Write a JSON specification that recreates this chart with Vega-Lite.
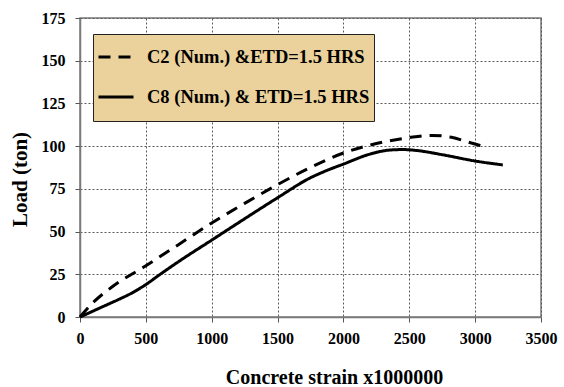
{
  "$schema": "https://vega.github.io/schema/vega-lite/v6.json",
  "width": 461,
  "height": 299,
  "autosize": {"type": "none"},
  "padding": {"left": 80, "top": 18, "right": 23, "bottom": 70},
  "background": "white",
  "config": {
    "font": "Liberation Serif",
    "view": {"stroke": "#7a7a7a", "strokeWidth": 1.5},
    "axis": {
      "labelFont": "Liberation Serif",
      "labelFontWeight": "bold",
      "labelFontSize": 16,
      "labelColor": "black",
      "titleFont": "Liberation Serif",
      "titleFontWeight": "bold",
      "titleColor": "black",
      "domainColor": "#7a7a7a",
      "domainWidth": 1.5,
      "tickColor": "#555",
      "tickSize": 5
    }
  },
  "data": {
    "values": [
      {"series": "C2 (Num.) &ETD=1.5 HRS", "strain": 0, "load": 0},
      {"series": "C2 (Num.) &ETD=1.5 HRS", "strain": 100, "load": 8.5},
      {"series": "C2 (Num.) &ETD=1.5 HRS", "strain": 250, "load": 18},
      {"series": "C2 (Num.) &ETD=1.5 HRS", "strain": 500, "load": 30},
      {"series": "C2 (Num.) &ETD=1.5 HRS", "strain": 750, "load": 42.5},
      {"series": "C2 (Num.) &ETD=1.5 HRS", "strain": 1000, "load": 55},
      {"series": "C2 (Num.) &ETD=1.5 HRS", "strain": 1250, "load": 66.5},
      {"series": "C2 (Num.) &ETD=1.5 HRS", "strain": 1500, "load": 77.5},
      {"series": "C2 (Num.) &ETD=1.5 HRS", "strain": 1750, "load": 87.5},
      {"series": "C2 (Num.) &ETD=1.5 HRS", "strain": 2000, "load": 96},
      {"series": "C2 (Num.) &ETD=1.5 HRS", "strain": 2250, "load": 101.5},
      {"series": "C2 (Num.) &ETD=1.5 HRS", "strain": 2500, "load": 105},
      {"series": "C2 (Num.) &ETD=1.5 HRS", "strain": 2670, "load": 106.3},
      {"series": "C2 (Num.) &ETD=1.5 HRS", "strain": 2820, "load": 105.2},
      {"series": "C2 (Num.) &ETD=1.5 HRS", "strain": 2950, "load": 102.3},
      {"series": "C2 (Num.) &ETD=1.5 HRS", "strain": 3040, "load": 100.3},
      {"series": "C8 (Num.) & ETD=1.5 HRS", "strain": 0, "load": 0},
      {"series": "C8 (Num.) & ETD=1.5 HRS", "strain": 100, "load": 3.5},
      {"series": "C8 (Num.) & ETD=1.5 HRS", "strain": 200, "load": 7},
      {"series": "C8 (Num.) & ETD=1.5 HRS", "strain": 300, "load": 10.5},
      {"series": "C8 (Num.) & ETD=1.5 HRS", "strain": 400, "load": 14.3},
      {"series": "C8 (Num.) & ETD=1.5 HRS", "strain": 500, "load": 19},
      {"series": "C8 (Num.) & ETD=1.5 HRS", "strain": 600, "load": 24.5},
      {"series": "C8 (Num.) & ETD=1.5 HRS", "strain": 750, "load": 32.5},
      {"series": "C8 (Num.) & ETD=1.5 HRS", "strain": 1000, "load": 45},
      {"series": "C8 (Num.) & ETD=1.5 HRS", "strain": 1250, "load": 57.5},
      {"series": "C8 (Num.) & ETD=1.5 HRS", "strain": 1500, "load": 69.8},
      {"series": "C8 (Num.) & ETD=1.5 HRS", "strain": 1750, "load": 81.5},
      {"series": "C8 (Num.) & ETD=1.5 HRS", "strain": 1850, "load": 85},
      {"series": "C8 (Num.) & ETD=1.5 HRS", "strain": 2000, "load": 89.5},
      {"series": "C8 (Num.) & ETD=1.5 HRS", "strain": 2200, "load": 95.3},
      {"series": "C8 (Num.) & ETD=1.5 HRS", "strain": 2350, "load": 97.7},
      {"series": "C8 (Num.) & ETD=1.5 HRS", "strain": 2450, "load": 98},
      {"series": "C8 (Num.) & ETD=1.5 HRS", "strain": 2550, "load": 97.5},
      {"series": "C8 (Num.) & ETD=1.5 HRS", "strain": 2750, "load": 95},
      {"series": "C8 (Num.) & ETD=1.5 HRS", "strain": 3000, "load": 91.3},
      {"series": "C8 (Num.) & ETD=1.5 HRS", "strain": 3210, "load": 89}
    ]
  },
  "mark": {"type": "line", "color": "black", "strokeWidth": 3, "interpolate": "monotone"},
  "encoding": {
    "x": {
      "field": "strain",
      "type": "quantitative",
      "scale": {"domain": [0, 3500], "nice": false},
      "axis": {
        "grid": true,
        "gridColor": "#5a5a5a",
        "gridDash": [2, 2],
        "gridWidth": 1,
        "gridOpacity": 1,
        "values": [0, 500, 1000, 1500, 2000, 2500, 3000, 3500],
        "format": "d",
        "title": "Concrete strain x1000000",
        "titleFontSize": 20,
        "titleX": 254,
        "titleY": 50,
        "titleBaseline": "top",
        "labelPadding": 8,
        "labelFlush": false
      }
    },
    "y": {
      "field": "load",
      "type": "quantitative",
      "scale": {"domain": [0, 175], "nice": false},
      "axis": {
        "grid": true,
        "gridColor": "#5a5a5a",
        "gridDash": [2, 2],
        "gridWidth": 1,
        "gridOpacity": 1,
        "values": [0, 25, 50, 75, 100, 125, 150, 175],
        "format": "d",
        "title": "Load (ton)",
        "titleFontSize": 21,
        "titleX": -60,
        "titleY": 161,
        "titleBaseline": "middle",
        "labelPadding": 10
      }
    },
    "strokeDash": {
      "field": "series",
      "type": "nominal",
      "scale": {
        "domain": ["C2 (Num.) &ETD=1.5 HRS", "C8 (Num.) & ETD=1.5 HRS"],
        "range": [[12, 8], [1, 0]]
      },
      "legend": {
        "title": " ",
        "titleOrient": "bottom",
        "titleFontSize": 8,
        "titlePadding": 2,
        "orient": "none",
        "legendX": 13,
        "legendY": 16,
        "fillColor": "#EBD29C",
        "strokeColor": "#222",
        "padding": 4,
        "rowPadding": 11,
        "symbolType": "stroke",
        "symbolSize": 1225,
        "symbolStrokeWidth": 3,
        "symbolStrokeColor": "black",
        "labelFont": "Liberation Serif",
        "labelFontWeight": "bold",
        "labelFontSize": 18.5,
        "labelColor": "black",
        "labelLimit": 400,
        "labelOffset": 12
      }
    }
  }
}
